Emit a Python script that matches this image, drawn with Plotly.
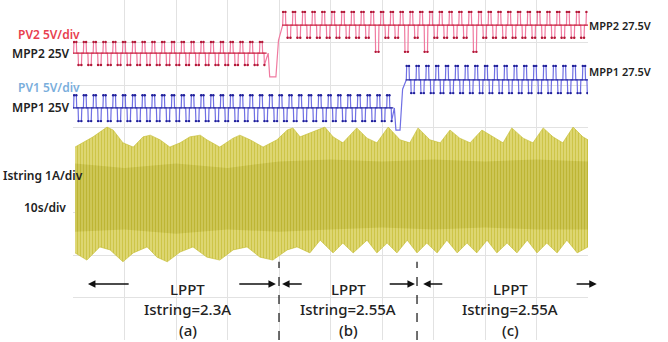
import plotly.graph_objects as go

# ---------------- data (scope units: x = seconds, y = divisions) ----------------
PERIOD = 1.9                      # s per perturb cycle
PATTERN_PHASE = [0.0, 0.06, 0.10, 0.34, 0.38, 0.52, 0.56, 0.86, 0.90, 1.0]
PATTERN_LEVEL = ['c', 'c', 'u', 'u', 'c', 'c', 'd', 'd', 'c', 'c']

# PV2 (red)
pv2_seg_start = [0.0, 40.6]
pv2_seg_end = [37.6, 100.0]
pv2_center = [6.75, 7.41]
pv2_up = [7.01, 7.72]
pv2_down = [6.47, 7.11]
pv2_step_t = [37.9, 38.2, 39.4, 39.9, 40.6]
pv2_step_y = [6.75, 6.19, 6.19, 7.05, 7.41]
pv2_deep_t = [58.1, 65.4, 67.9, 77.5]
pv2_deep_y = 6.78

# PV1 (blue)
pv1_seg_start = [0.0, 64.6]
pv1_seg_end = [62.2, 100.0]
pv1_center = [5.46, 6.12]
pv1_up = [5.76, 6.45]
pv1_down = [5.15, 5.81]
pv1_step_t = [62.4, 62.7, 63.5, 64.0, 64.6]
pv1_step_y = [5.46, 4.94, 4.94, 5.9, 6.12]
pv1_deep_t = []
pv1_deep_y = 5.0

# Istring (yellow) envelope
istr_top_t = [0.4, 1.9, 3.9, 6.6, 7.8, 9.7, 11.7, 13.6, 15.0, 16.9, 18.8, 20.8, 22.7, 24.7,
              26.0, 28.5, 31.1, 32.4, 34.4, 36.9, 39.6, 41.6, 42.7, 44.1, 46.0, 48.9, 50.5,
              52.4, 55.1, 57.1, 59.0, 61.2, 63.5, 65.4, 67.0, 69.3, 71.3, 73.2, 75.1, 77.1,
              79.4, 81.6, 83.5, 85.2, 87.4, 89.3, 91.3, 93.2, 95.1, 97.1, 99.0, 100.0]
istr_top = [4.54, 4.64, 4.78, 5.01, 4.94, 4.64, 4.54, 4.78, 4.82, 4.71, 4.54, 4.64, 4.78, 4.82,
            4.71, 4.54, 4.75, 4.82, 4.71, 4.54, 4.71, 4.94, 4.99, 4.78, 4.87, 5.01, 4.78,
            4.64, 4.99, 4.75, 4.64, 5.01, 4.71, 4.64, 4.99, 4.71, 4.64, 4.94, 4.75, 4.64,
            4.94, 4.78, 4.64, 4.99, 4.75, 4.64, 4.99, 4.78, 4.64, 5.01, 4.78, 4.71]
istr_bot_t = [0.4, 2.7, 5.2, 7.2, 9.7, 11.7, 14.4, 16.3, 18.3, 20.8, 23.3, 26.0, 28.5, 31.1,
              33.8, 36.3, 38.8, 41.6, 43.5, 46.0, 48.0, 50.5, 52.4, 54.4, 57.1, 59.0, 61.0,
              62.9, 64.9, 66.8, 68.7, 70.7, 72.6, 74.6, 76.5, 78.4, 80.4, 82.3, 84.3, 86.2,
              88.2, 90.1, 92.0, 94.0, 95.9, 97.9, 100.0]
istr_bot = [2.05, 1.88, 2.19, 2.12, 1.84, 2.05, 2.19, 1.95, 1.84, 2.07, 2.19, 1.95, 1.88, 2.12,
            2.19, 1.95, 1.88, 2.12, 2.19, 2.05, 2.35, 2.05, 2.28, 2.05, 2.35, 2.05, 2.28,
            2.05, 2.35, 2.05, 2.28, 2.05, 2.35, 2.05, 2.28, 2.05, 2.35, 2.05, 2.28, 2.05,
            2.35, 2.05, 2.28, 2.05, 2.35, 2.05, 2.19]
# darker core of the current band
core_t = [0.4, 10.0, 20.0, 30.0, 40.0, 50.0, 60.0, 70.0, 80.0, 90.0, 100.0]
core_top = [4.15, 4.05, 4.15, 4.05, 4.2, 4.25, 4.2, 4.25, 4.2, 4.25, 4.2]
core_bot = [2.55, 2.6, 2.5, 2.6, 2.55, 2.6, 2.65, 2.6, 2.65, 2.6, 2.6]

# region boundaries and labels
boundary_t = [40.0, 66.8]
region_center_t = [22.3, 53.4, 84.9]
region_current = ["Istring=2.3A", "Istring=2.55A", "Istring=2.55A"]
region_tag = ["(a)", "(b)", "(c)"]
arrow_left = [(2.9, 11.1), (40.6, 44.7), (68.0, 72.0)]     # (head, tail)
arrow_right = [(39.4, 32.0), (66.4, 61.2), (101.7, 97.5)]  # (head, tail)

X_MAX = 100.0
Y_MAX = 8.0


def build(seg_start, seg_end, center, up, down, step_t, step_y, deep_t, deep_y):
    xs, ys = [], []
    for i in range(len(seg_start)):
        t0 = seg_start[i]
        while t0 < seg_end[i] - 1e-9:
            deep = any(abs(t0 + 0.71 * PERIOD - d) < 0.95 for d in deep_t)
            for ph, lv in zip(PATTERN_PHASE, PATTERN_LEVEL):
                t = t0 + ph * PERIOD
                if t > seg_end[i]:
                    break
                if lv == 'c':
                    y = center[i]
                elif lv == 'u':
                    y = up[i]
                else:
                    y = deep_y if deep else down[i]
                xs.append(t)
                ys.append(y)
            t0 += PERIOD
        if i == 0:
            xs.extend(step_t)
            ys.extend(step_y)
    return xs, ys


fig = go.Figure()

# Istring band
fig.add_trace(go.Scatter(
    x=istr_top_t + istr_bot_t[::-1], y=istr_top + istr_bot[::-1],
    fill='toself', mode='lines', line=dict(width=0.6, color='#c4bc30'),
    fillpattern=dict(shape='|', size=3, solidity=0.5, fgcolor='#b7ae12', bgcolor='#e2dc7e'),
    hoverinfo='skip', showlegend=False))
fig.add_trace(go.Scatter(
    x=core_t + core_t[::-1], y=core_top + core_bot[::-1],
    fill='toself', mode='lines', line=dict(width=0),
    fillpattern=dict(shape='|', size=3, solidity=0.6, fgcolor='#a89f0c', bgcolor='rgba(212,205,100,0.7)'),
    hoverinfo='skip', showlegend=False))

# PV2
x2, y2 = build(pv2_seg_start, pv2_seg_end, pv2_center, pv2_up, pv2_down,
               pv2_step_t, pv2_step_y, pv2_deep_t, pv2_deep_y)
fig.add_trace(go.Scatter(x=x2, y=y2, mode='lines', line=dict(color='#f07aa0', width=1.2),
                         hoverinfo='skip', showlegend=False))
# PV1
x1, y1 = build(pv1_seg_start, pv1_seg_end, pv1_center, pv1_up, pv1_down,
               pv1_step_t, pv1_step_y, pv1_deep_t, pv1_deep_y)
fig.add_trace(go.Scatter(x=x1, y=y1, mode='lines', line=dict(color='#7070e4', width=1.2),
                         hoverinfo='skip', showlegend=False))

# center (MPP) levels, darker
for s0, s1, c, col in [(pv2_seg_start[0], pv2_seg_end[0], pv2_center[0], '#c8203f'),
                       (pv2_seg_start[1], pv2_seg_end[1], pv2_center[1], '#c8203f'),
                       (pv1_seg_start[0], pv1_seg_end[0], pv1_center[0], '#2424a0'),
                       (pv1_seg_start[1], pv1_seg_end[1], pv1_center[1], '#2424a0')]:
    fig.add_trace(go.Scatter(x=[s0, s1], y=[c, c], mode='lines',
                             line=dict(color=col, width=1.2), hoverinfo='skip', showlegend=False))

# sample dots at pulse extremes
for xs, ys, cen, col in [(x2, y2, pv2_center + pv2_step_y, '#b01836'),
                         (x1, y1, pv1_center + pv1_step_y, '#202098')]:
    mx = [x for x, y in zip(xs, ys) if y not in cen]
    my = [y for y in ys if y not in cen]
    fig.add_trace(go.Scatter(x=mx, y=my, mode='markers',
                             marker=dict(color=col, size=2.4), hoverinfo='skip', showlegend=False))

F = "Noto Sans"
ann = []
def lab(text, x, y, xa, color='#222222', size=12, weight=600):
    ann.append(dict(text=text, x=x / X_MAX, y=y / Y_MAX, xref='paper', yref='paper',
                    xanchor=xa, yanchor='middle', showarrow=False,
                    font=dict(family=F, size=size, color=color, weight=weight)))

lab("PV2 5V/div", 1.8, 7.18, 'right', '#e8404f')
lab("MPP2 25V", -0.1, 6.75, 'right')
lab("PV1 5V/div", 1.8, 5.93, 'right', '#7aaedc')
lab("MPP1 25V", -0.1, 5.48, 'right')
lab("Istring 1A/div", 2.4, 3.86, 'right')
lab("10s/div", -1.0, 3.11, 'right')
lab("MPP2 27.5V", 99.8, 7.41, 'left', size=11)
lab("MPP1 27.5V", 99.8, 6.31, 'left', size=11)

for i in range(3):
    lab("LPPT", region_center_t[i], 1.2, 'center', size=15, weight=500)
    lab(region_current[i], region_center_t[i], 0.73, 'center', size=15, weight=500)
    lab(region_tag[i], region_center_t[i], 0.24, 'center', size=15, weight=500)

for head, tail in arrow_left + arrow_right:
    ann.append(dict(x=head, y=1.32, ax=tail, ay=1.32, xref='x', yref='y', axref='x', ayref='y',
                    text='', showarrow=True, arrowhead=2, arrowsize=1, arrowwidth=1.5,
                    arrowcolor='#111111'))

shapes = [dict(type='line', x0=b, x1=b, y0=0, y1=1.84, xref='x', yref='y',
               line=dict(color='#111111', width=1.2, dash='dash')) for b in boundary_t]

fig.update_layout(
    width=668, height=342, margin=dict(l=73, r=80, t=0, b=2),
    paper_bgcolor='white', plot_bgcolor='white',
    xaxis=dict(range=[0, X_MAX], dtick=10, showgrid=True, gridcolor='#e2e2e2', gridwidth=1,
               showticklabels=False, zeroline=False, ticks=''),
    yaxis=dict(range=[0, Y_MAX], dtick=1, showgrid=True, gridcolor='#e2e2e2', gridwidth=1,
               showticklabels=False, zeroline=False, ticks=''),
    annotations=ann, shapes=shapes, showlegend=False)

fig.write_html("out.html", config={'displayModeBar': False},
               post_script="document.body.style.margin='0';document.body.style.padding='0';")
